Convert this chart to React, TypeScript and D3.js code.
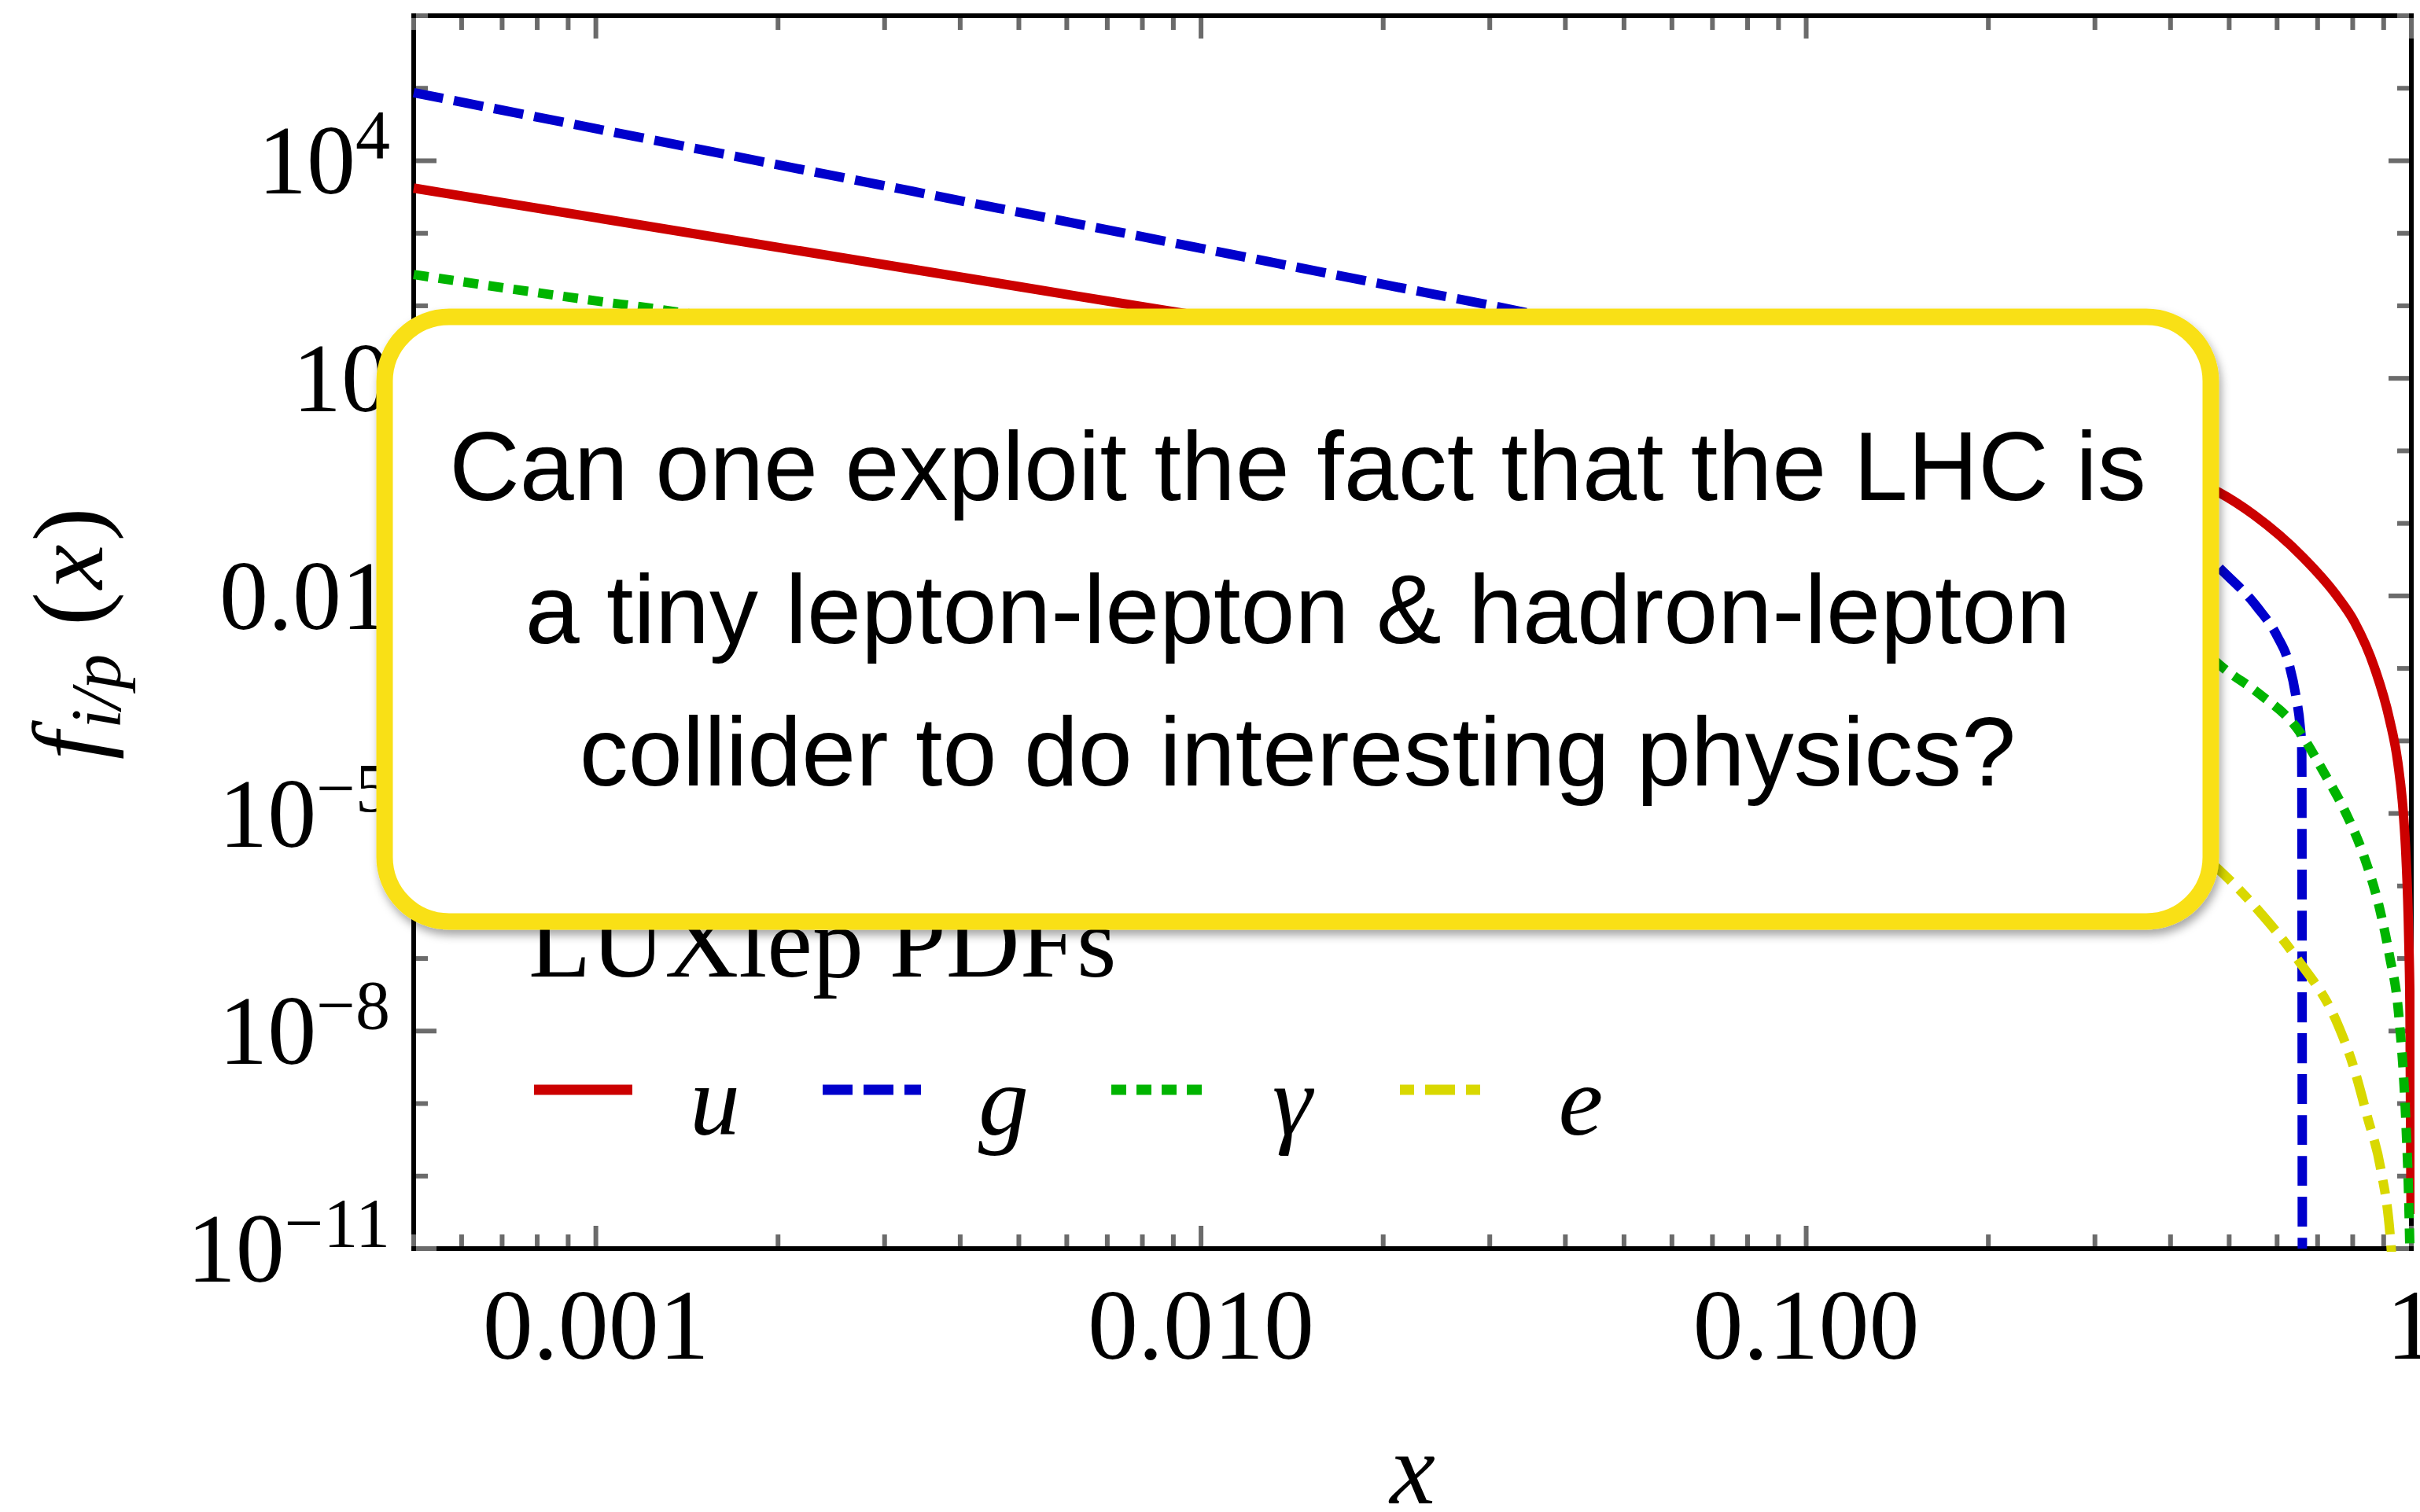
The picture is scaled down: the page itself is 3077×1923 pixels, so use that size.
import React from "react";
import * as d3 from "d3";

const W = 3077;
const H = 1923;
const M = { left: 526, right: 3066, top: 20, bottom: 1588 };

// LUXlep PDFs (x, f_{i/p}(x))
const uX = [0.0005, 0.001, 0.002, 0.005, 0.01, 0.02, 0.05, 0.1, 0.2, 0.3, 0.4, 0.48, 0.55, 0.66, 0.75, 0.805, 0.87, 0.92, 0.95, 0.97, 0.98, 0.99, 0.995, 0.999];
const uF = [4.2e3, 1.64e3, 640, 184, 72, 29.5, 9.5, 4.2, 1.66, 0.89, 0.5, 0.27, 0.13, 0.035, 0.0105, 0.0044, 1e-3, 2e-4, 5e-5, 1e-5, 2.5e-6, 2e-7, 1.6e-8, 3e-11];

const gX = [0.0005, 0.001, 0.002, 0.005, 0.01, 0.02, 0.0367, 0.05, 0.1, 0.2, 0.3, 0.4, 0.48, 0.557, 0.6, 0.627, 0.645, 0.655, 0.659, 0.6605];
const gF = [8.7e4, 2.77e4, 8.8e3, 1.95e3, 620, 198, 72, 40, 8, 1.3, 0.35, 0.11, 0.025, 6.9e-3, 2.8e-3, 1.2e-3, 4e-4, 1.6e-4, 8e-5, 1e-11];

const aX = [0.0005, 0.001, 0.00124, 0.002, 0.005, 0.01, 0.02, 0.05, 0.1, 0.2, 0.3, 0.4, 0.49, 0.56, 0.647, 0.718, 0.78, 0.832, 0.89, 0.92, 0.953, 0.98, 0.99, 0.996];
const aF = [270, 117, 92, 51, 17, 7.4, 3.2, 1.0, 0.38, 0.1, 0.025, 5e-3, 1.0e-3, 4.5e-4, 1.5e-4, 3.6e-5, 1e-5, 2.8e-6, 4.2e-7, 1.1e-7, 1.7e-8, 5e-10, 5e-11, 5e-12];

const eX = [0.0005, 0.001, 0.002, 0.005, 0.01, 0.02, 0.05, 0.1, 0.2, 0.3, 0.4, 0.48, 0.56, 0.647, 0.755, 0.8, 0.847, 0.89, 0.922, 0.93];
const eF = [0.5, 0.25, 0.11, 0.035, 0.014, 5e-3, 1.26e-3, 4e-4, 8e-5, 2e-5, 5.6e-6, 1.7e-6, 4.5e-7, 1e-7, 1.26e-8, 3.5e-9, 6.3e-10, 1.26e-10, 1.6e-11, 6.3e-12];

const seriesNames = ["u", "g", "γ", "e"];

// axis ticks and labels
const xMajor = [0.001, 0.01, 0.1, 1];
const xLabels = ["0.001", "0.010", "0.100", "1"];
const yMajor = [1e4, 10, 0.01, 1e-5, 1e-8, 1e-11];
const yLabelBase = ["10", "10", "0.01", "10", "10", "10"];
const yLabelSup = ["4", "", "", "−5", "−8", "−11"];

const callout = [
  "Can one exploit the fact that the LHC is",
  "a tiny lepton-lepton & hadron-lepton",
  "collider to do interesting physics?",
];

const colors = ["#cc0000", "#0000cc", "#00b400", "#d9d800"];
const dashes = [undefined, "38 14", "19 13", "38 14 18 14"];

const SERIF = "'Liberation Serif', 'Times New Roman', serif";
const SANS = "'Liberation Sans', Arial, Helvetica, sans-serif";
const TICK = "#6b6b6b";

export default function App() {
  const x = d3.scaleLog().domain([0.0005, 1]).range([M.left, M.right]);
  const y = d3.scaleLog().domain([1e-11, 1e6]).range([M.bottom, M.top]);

  const line = d3
    .line<[number, number]>()
    .x((d) => x(d[0]))
    .y((d) => y(d[1]))
    .curve(d3.curveMonotoneX);

  const series = [
    { xs: uX, fs: uF },
    { xs: gX, fs: gF },
    { xs: aX, fs: aF },
    { xs: eX, fs: eF },
  ].map((s, i) => ({
    name: seriesNames[i],
    color: colors[i],
    dash: dashes[i],
    pts: s.xs.map((v, j) => [v, s.fs[j]] as [number, number]),
  }));

  const isMajorX = (t: number) => xMajor.some((m) => Math.abs(t - m) / m < 1e-6);
  const xTicks = x.ticks();
  const yTicks = d3.range(-11, 7).map((p) => Math.pow(10, p));
  const isMajorY = (t: number) => yMajor.some((m) => Math.abs(t - m) / m < 1e-6);

  const majLen = 26;
  const minLen = 15;

  // callout box geometry
  const box = { x0: 489, y0: 403, x1: 2811, y1: 1172 };

  return (
    <svg
      width={W}
      height={H}
      style={{ position: "absolute", left: 0, top: 0, background: "#fff" }}
    >
      <defs>
        <clipPath id="plot">
          <rect x={M.left - 8} y={M.top} width={M.right - M.left + 12} height={M.bottom - M.top + 4} />
        </clipPath>
        <filter id="shadow" x="-5%" y="-5%" width="110%" height="115%">
          <feDropShadow dx="3" dy="7" stdDeviation="6" floodColor="#000" floodOpacity="0.35" />
        </filter>
      </defs>

      {/* frame */}
      <rect
        x={M.left}
        y={M.top}
        width={M.right - M.left}
        height={M.bottom - M.top}
        fill="none"
        stroke="#000"
        strokeWidth={6}
      />

      {/* ticks */}
      <g stroke={TICK} strokeWidth={6}>
        {xTicks.map((t, i) => {
          const len = isMajorX(t) ? majLen : minLen;
          const px = x(t);
          return (
            <g key={"xt" + i}>
              <line x1={px} x2={px} y1={M.bottom - 3} y2={M.bottom - 3 - len} />
              <line x1={px} x2={px} y1={M.top + 3} y2={M.top + 3 + len} />
            </g>
          );
        })}
        {yTicks.map((t, i) => {
          const len = isMajorY(t) ? majLen : minLen;
          const py = y(t);
          return (
            <g key={"yt" + i}>
              <line x1={M.left + 3} x2={M.left + 3 + len} y1={py} y2={py} />
              <line x1={M.right - 3} x2={M.right - 3 - len} y1={py} y2={py} />
            </g>
          );
        })}
      </g>

      {/* curves */}
      <g clipPath="url(#plot)" fill="none">
        {series.map((s) => (
          <path
            key={s.name}
            d={line(s.pts) || ""}
            stroke={s.color}
            strokeWidth={12}
            strokeDasharray={s.dash}
          />
        ))}
      </g>

      {/* x tick labels */}
      <g fontFamily={SERIF} fontSize={128} textAnchor="middle" fill="#000">
        {xMajor.map((t, i) => (
          <text key={"xl" + i} x={x(t)} y={1728}>
            {xLabels[i]}
          </text>
        ))}
      </g>

      {/* y tick labels */}
      <g fontFamily={SERIF} fontSize={124} textAnchor="end" fill="#000">
        {yMajor.map((t, i) => (
          <text key={"yl" + i} x={496} y={y(t) + 42}>
            {yLabelBase[i]}
            {yLabelSup[i] && (
              <tspan dy={-45} fontSize={88}>
                {yLabelSup[i]}
              </tspan>
            )}
          </text>
        ))}
      </g>

      {/* axis titles */}
      <text
        x={(M.left + M.right) / 2}
        y={1912}
        fontFamily={SERIF}
        fontSize={130}
        fontStyle="italic"
        textAnchor="middle"
      >
        x
      </text>
      <text
        transform={`translate(130, 806) rotate(-90)`}
        fontFamily={SERIF}
        fontSize={128}
        textAnchor="middle"
      >
        <tspan fontStyle="italic">f</tspan>
        <tspan fontStyle="italic" fontSize={90} dy={23} dx={4}>
          i/p
        </tspan>
        <tspan dy={-23} dx={36}>
          (
        </tspan>
        <tspan fontStyle="italic" dx={4}>x</tspan>
        <tspan dx={4}>)</tspan>
      </text>

      {/* legend */}
      <text x={672} y={1242} fontFamily={SERIF} fontSize={130}>
        LUXlep PDFs
      </text>
      {series.map((s, i) => {
        const lx = 679 + i * 367;
        return (
          <g key={"lg" + s.name}>
            <line
              x1={lx}
              x2={lx + (i === 3 ? 104 : 125)}
              y1={1386}
              y2={1386}
              stroke={s.color}
              strokeWidth={13}
              strokeDasharray={i === 3 ? "18 14 38 14" : s.dash}
            />
            <text
              x={lx + 230}
              y={1443}
              fontFamily={SERIF}
              fontSize={128}
              fontStyle="italic"
              textAnchor="middle"
            >
              {s.name}
            </text>
          </g>
        );
      })}

      {/* callout box */}
      <rect
        x={box.x0}
        y={box.y0}
        width={box.x1 - box.x0}
        height={box.y1 - box.y0}
        rx={82}
        ry={82}
        fill="#fff"
        stroke="#f9e016"
        strokeWidth={21}
        filter="url(#shadow)"
      />
      <g fontFamily={SANS} fontSize={124} textAnchor="middle" fill="#000">
        {callout.map((t, i) => (
          <text key={"c" + i} x={(box.x0 + box.x1) / 2} y={636 + i * 181.5}>
            {t}
          </text>
        ))}
      </g>
    </svg>
  );
}
